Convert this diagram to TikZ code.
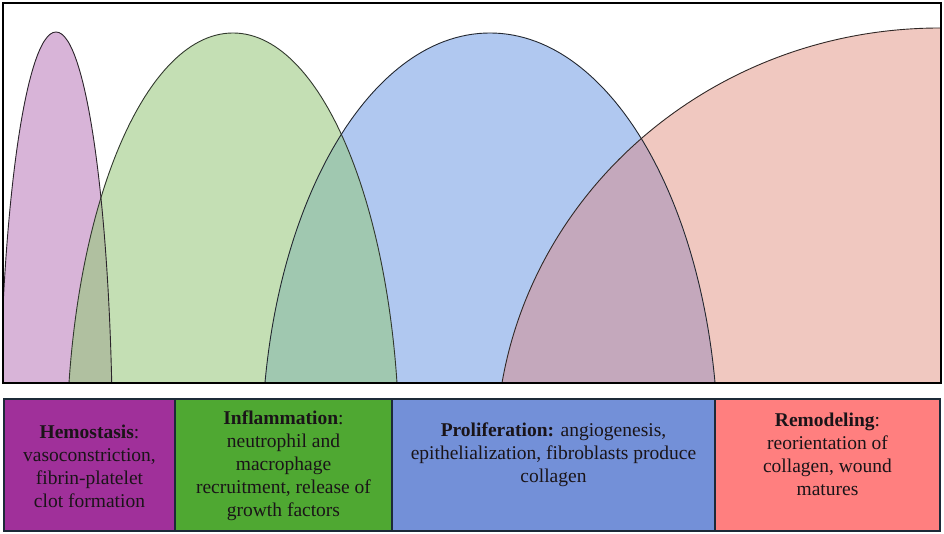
\documentclass[tikz,border=0pt]{standalone}
\usepackage{fontspec}
\setmainfont{Liberation Serif}
\definecolor{pfill}{HTML}{D8B4D8}
\definecolor{gfill}{HTML}{C4DFB4}
\definecolor{bfill}{HTML}{B0C8F0}
\definecolor{rfill}{HTML}{F0C8C0}
\definecolor{pgfill}{HTML}{B0C0A0}
\definecolor{gbfill}{HTML}{A0C8B0}
\definecolor{brfill}{HTML}{C4A8BC}
\definecolor{hbox}{HTML}{A0309A}
\definecolor{ibox}{HTML}{4FA832}
\definecolor{pbox}{HTML}{7390D8}
\definecolor{rbox}{HTML}{FF7F7F}
\definecolor{boxline}{HTML}{1C2A38}
\definecolor{txtdark}{HTML}{1A1418}
\tikzset{
  phasebox/.style={draw=boxline, line width=2pt, inner sep=0pt, minimum height=132pt},
  phasetxt/.style={align=center, text=txtdark, inner sep=0pt, font=\fontsize{19.5}{23}\selectfont},
  arcline/.style={line width=0.9pt},
  framebox/.style={draw=black, line width=2.5pt}
}
\begin{document}
\begin{tikzpicture}[x=1pt,y=1pt]
\useasboundingbox (0,0) rectangle (944,534);
% arches
\begin{scope}
  \clip (3,151) rectangle (941,531);
  \fill[pfill] (56,81) ellipse [x radius=56.5, y radius=421];
  \fill[gfill] (233,81) ellipse [x radius=166.3, y radius=420];
  \fill[bfill] (490,81) ellipse [x radius=228.2, y radius=420];
  \fill[rfill] (940,81) ellipse [x radius=444, y radius=425];
  \begin{scope}
    \clip (56,81) ellipse [x radius=56.5, y radius=421];
    \fill[pgfill] (233,81) ellipse [x radius=166.3, y radius=420];
  \end{scope}
  \begin{scope}
    \clip (233,81) ellipse [x radius=166.3, y radius=420];
    \fill[gbfill] (490,81) ellipse [x radius=228.2, y radius=420];
  \end{scope}
  \begin{scope}
    \clip (490,81) ellipse [x radius=228.2, y radius=420];
    \fill[brfill] (940,81) ellipse [x radius=444, y radius=425];
  \end{scope}
  \draw[arcline, draw=black!80!pfill] (56,81) ellipse [x radius=56.5, y radius=421];
  \draw[arcline, draw=black!75!gfill] (233,81) ellipse [x radius=166.3, y radius=420];
  \draw[arcline, draw=black!80!bfill] (490,81) ellipse [x radius=228.2, y radius=420];
  \draw[arcline, draw=black!80!rfill] (940,81) ellipse [x radius=444, y radius=425];
\end{scope}
\draw[framebox] (3,151) rectangle (941,531);
% phase boxes
\node[phasebox, fill=hbox, minimum width=171pt] (hemo) at (89.5,69) {};
\node[phasebox, fill=ibox, minimum width=217pt] (infl) at (283.5,69) {};
\node[phasebox, fill=pbox, minimum width=323pt] (prol) at (553.5,69) {};
\node[phasebox, fill=rbox, minimum width=225pt] (remo) at (827.5,69) {};
% texts
\node[phasetxt] (hemot) at (89.5,68) {\textbf{Hemostasis}:\\vasoconstriction,\\fibrin-platelet\\clot formation};
\node[phasetxt] (inflt) at (283.5,68) {\textbf{Inflammation}:\\neutrophil and\\macrophage\\recruitment, release of\\growth factors};
\node[phasetxt] (prolt) at (553.5,79) {\textbf{Proliferation:} angiogenesis,\\epithelialization, fibroblasts produce\\collagen};
\node[phasetxt] (remot) at (827.5,80) {\textbf{Remodeling}:\\reorientation of\\collagen, wound\\matures};
\end{tikzpicture}
\end{document}
